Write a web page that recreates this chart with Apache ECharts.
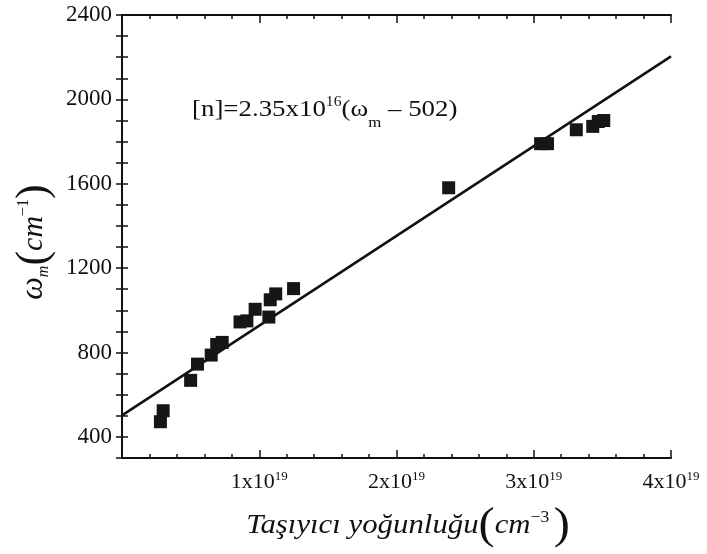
<!DOCTYPE html>
<html>
<head>
<meta charset="utf-8">
<script src="https://cdn.jsdelivr.net/npm/echarts@6/dist/echarts.min.js"></script>
<style>
  html, body { margin: 0; padding: 0; background: #fff; }
  #chart { width: 707px; height: 554px; }
</style>
</head>
<body>
<div id="chart"></div>
<script>
// Carrier density in units of 1e19 cm^-3
const carrierDensity = [0.30, 0.28, 0.50, 0.55, 0.65, 0.69, 0.73, 0.86, 0.91, 0.97, 1.07, 1.08, 1.12, 1.25, 2.38, 3.05, 3.10, 3.31, 3.43, 3.47, 3.51];
// Plasmon frequency ω_m in cm^-1
const omegaM = [524, 472, 668, 745, 788, 838, 848, 945, 950, 1005, 968, 1050, 1078, 1103, 1581, 1790, 1790, 1856, 1872, 1895, 1900];
// Linear fit [n] = 2.35e16 (ω_m − 502), drawn between its end points
const fitDensity = [0, 4];
const fitOmega = [502, 2204];
// Axis label values
const xTicks = [1, 2, 3, 4];
const yTicks = [400, 800, 1200, 1600, 2000, 2400];

const serif = '"Times New Roman", Times, Tinos, "Nimbus Roman", "Liberation Serif", serif';
const ink = '#111';

const points = carrierDensity.map((x, i) => [x, omegaM[i]]);
const fitLine = fitDensity.map((x, i) => [x, fitOmega[i]]);

const chart = echarts.init(document.getElementById('chart'));

const frameAxisLine = { show: true, lineStyle: { color: ink, width: 2 } };

chart.setOption({
  animation: false,
  backgroundColor: '#fff',
  grid: { left: 122, right: 36, top: 15, bottom: 96, containLabel: false },
  xAxis: [
    {
      type: 'value', min: 0, max: 4, interval: 1, position: 'bottom',
      axisLine: frameAxisLine,
      axisTick: { show: true, inside: true, length: 8, lineStyle: { color: ink, width: 1.5 } },
      minorTick: { show: true, splitNumber: 5, length: 4, lineStyle: { color: ink, width: 1.5 } },
      splitLine: { show: false },
      axisLabel: {
        margin: 12,
        formatter: v => xTicks.includes(v) ? `{a|${v}x10}{s|19}` : '',
        rich: {
          a: { fontSize: 22, fontFamily: serif, color: ink, lineHeight: 24 },
          s: { fontSize: 13, fontFamily: serif, color: ink, lineHeight: 14, verticalAlign: 'top' }
        }
      }
    },
    {
      type: 'value', min: 0, max: 4, interval: 1, position: 'top',
      axisLine: frameAxisLine,
      axisTick: { show: true, inside: true, length: 8, lineStyle: { color: ink, width: 1.5 } },
      minorTick: { show: true, splitNumber: 5, length: 4, lineStyle: { color: ink, width: 1.5 } },
      splitLine: { show: false },
      axisLabel: { show: false }
    }
  ],
  yAxis: [
    {
      type: 'value', min: 300, max: 2400, interval: 100, position: 'left',
      axisLine: frameAxisLine,
      axisTick: { show: true, inside: true, length: 6, lineStyle: { color: ink, width: 1.5 } },
      splitLine: { show: false },
      axisLabel: {
        margin: 10,
        fontSize: 23, fontFamily: serif, color: ink,
        formatter: v => yTicks.includes(v) ? String(v) : ''
      }
    },
    {
      type: 'value', min: 300, max: 2400, interval: 100, position: 'right',
      axisLine: frameAxisLine,
      axisTick: { show: true, inside: true, length: 6, lineStyle: { color: ink, width: 1.5 } },
      splitLine: { show: false },
      axisLabel: { show: false }
    }
  ],
  series: [
    {
      type: 'line',
      data: fitLine,
      showSymbol: false,
      symbol: 'none',
      lineStyle: { color: ink, width: 2.5 },
      z: 2
    },
    {
      type: 'scatter',
      data: points,
      symbol: 'rect',
      symbolSize: 13,
      itemStyle: { color: '#161616', opacity: 1 },
      z: 3
    }
  ],
  graphic: [
    {
      type: 'text', x: 192, y: 95, scaleX: 1.12,
      style: {
        text: '{a|[n]=2.35x10}{s|16}{a|(ω}{b|m}{a| – 502)}',
        fill: ink,
        rich: {
          a: { fontSize: 24, fontFamily: serif, fill: ink, lineHeight: 30, verticalAlign: 'middle' },
          s: { fontSize: 14, fontFamily: serif, fill: ink, lineHeight: 14, verticalAlign: 'top' },
          b: { fontSize: 15, fontFamily: serif, fill: ink, lineHeight: 14, verticalAlign: 'bottom', padding: [0, 0, -6, 0] }
        }
      }
    },
    {
      type: 'text', x: 408, y: 526, scaleX: 1.1,
      style: {
        text: '{t|Taşıyıcı yoğunluğu}{p|(}{t|cm}{e|−3}{p|)}',
        align: 'center', verticalAlign: 'middle',
        fill: ink,
        rich: {
          t: { fontSize: 28, fontStyle: 'italic', fontFamily: serif, fill: ink, lineHeight: 44, verticalAlign: 'middle' },
          p: { fontSize: 44, fontFamily: serif, fill: ink, lineHeight: 44, verticalAlign: 'middle' },
          e: { fontSize: 16, fontFamily: serif, fill: ink, lineHeight: 16, verticalAlign: 'top', padding: [6, 4, 0, 0] }
        }
      }
    },
    {
      type: 'text', x: 34, y: 242, rotation: Math.PI / 2,
      style: {
        text: '{w|ω}{m|m}{p|(}{c|cm}{e|−1}{p|)}',
        align: 'center', verticalAlign: 'middle',
        fill: ink,
        rich: {
          w: { fontSize: 32, fontStyle: 'italic', fontFamily: serif, fill: ink, lineHeight: 44, verticalAlign: 'middle' },
          m: { fontSize: 16, fontStyle: 'italic', fontFamily: serif, fill: ink, lineHeight: 16, verticalAlign: 'bottom', padding: [0, 0, 4, 0] },
          p: { fontSize: 44, fontFamily: serif, fill: ink, lineHeight: 44, verticalAlign: 'middle' },
          c: { fontSize: 30, fontStyle: 'italic', fontFamily: serif, fill: ink, lineHeight: 44, verticalAlign: 'middle' },
          e: { fontSize: 16, fontFamily: serif, fill: ink, lineHeight: 16, verticalAlign: 'top', padding: [4, 0, 0, 0] }
        }
      }
    }
  ]
});
</script>
</body>
</html>
